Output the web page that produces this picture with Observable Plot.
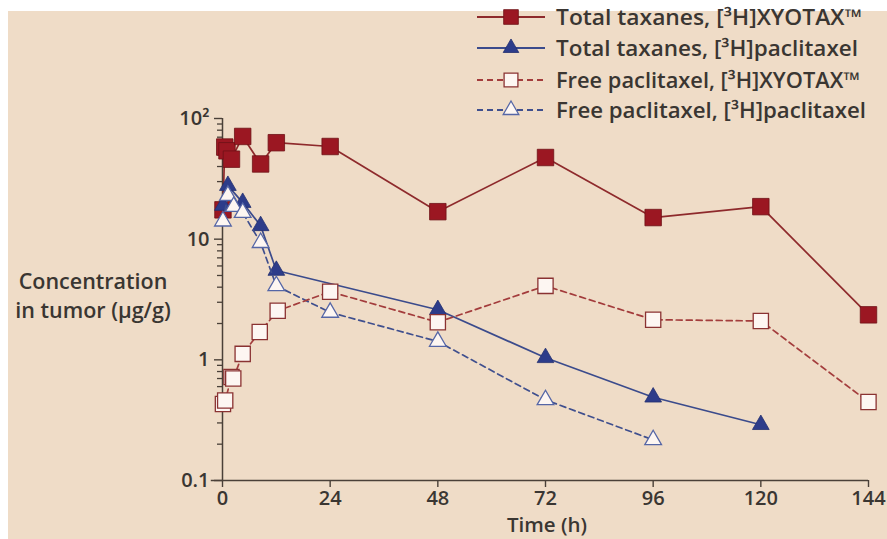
<!DOCTYPE html>
<html><head><meta charset="utf-8">
<script src="https://cdn.jsdelivr.net/npm/d3@7"></script>
<script src="https://cdn.jsdelivr.net/npm/@observablehq/plot@0.6"></script>
<style>
html,body{margin:0;padding:0;background:#fff;width:887px;height:539px;overflow:hidden;}
#bg{position:absolute;left:8px;top:11px;width:879px;height:528px;background:#efdcc7;}
#chart{position:absolute;left:0;top:0;}
#legend{position:absolute;left:0;top:0;}
.lab{position:absolute;font-family:"Open Sans",sans-serif;font-weight:600;font-size:21.5px;color:#3a3632;line-height:29px;white-space:nowrap;}
#ylab{left:3px;top:266px;width:180px;text-align:center;}
#xlab{left:437px;top:512px;width:220px;text-align:center;font-size:20.5px;line-height:24px;}
</style></head>
<body>
<div id="bg"></div>
<div id="chart"></div>
<svg id="legend" width="887" height="130"></svg>
<div id="ylab" class="lab">Concentration<br>in tumor (µg/g)</div>
<div id="xlab" class="lab">Time (h)</div>
<script>
// ---- data ----
const seriesNames = [
  "Total taxanes, [³H]XYOTAX™",
  "Total taxanes, [³H]paclitaxel",
  "Free paclitaxel, [³H]XYOTAX™",
  "Free paclitaxel, [³H]paclitaxel"
];
// Total taxanes, XYOTAX (filled squares)
const tTotalX = [0.1, 0.5, 1, 2, 4.5, 8.5, 12, 24, 48, 72, 96, 120, 144];
const vTotalX = [17.5, 58, 54, 46, 71, 42, 63, 58.6, 16.9, 47.5, 15.1, 18.6, 2.36];
// Total taxanes, paclitaxel (filled triangles)
const tTotalP = [0.1, 1.2, 4.5, 8.5, 12, 48, 72, 96, 120];
const vTotalP = [19, 27.8, 20.1, 12.9, 5.5, 2.6, 1.04, 0.49, 0.29];
// Free paclitaxel, XYOTAX (open squares)
const tFreeX = [0.1, 0.6, 2, 2.4, 4.5, 8.3, 12.3, 24, 48, 72, 96, 120, 144];
const vFreeX = [0.43, 0.46, 0.72, 0.70, 1.12, 1.7, 2.55, 3.67, 2.05, 4.1, 2.15, 2.1, 0.448];
// Free paclitaxel, paclitaxel (open triangles)
const tFreeP = [0.1, 1.2, 2.5, 4.5, 8.5, 12, 24, 48, 72, 96];
const vFreeP = [14.1, 23, 18.6, 16.6, 9.35, 4.1, 2.47, 1.42, 0.466, 0.217];

const xTicks = [0, 24, 48, 72, 96, 120, 144];
const yMajor = [0.1, 1, 10, 100];
const yMajorLabels = ["0.1", "1", "10", "10²"];
const yMinor = [0.2,0.3,0.4,0.5,0.6,0.7,0.8,0.9,2,3,4,5,6,7,8,9,20,30,40,50,60,70,80,90];

const mk = (ts, vs) => ts.map((t, i) => ({t, v: vs[i]}));
const A = mk(tTotalX, vTotalX), B = mk(tTotalP, vTotalP), C = mk(tFreeX, vFreeX), D = mk(tFreeP, vFreeP);

const redLine = "#8e2a2c", redFill = "#9b1722", redEdge = "#6e1216";
const redDash = "#a33c3c", openRedEdge = "#8a3232";
const blueLine = "#3b4b8c", blueFill = "#2d3c8a", blueDash = "#3f4f8e", openBlueEdge = "#5566a6";
const openFill = "#fdf6f2";
const axisCol = "#4a4038";

const rSq = 9.3, rOpenSq = 8.6, rTri = 6.2;

const chart = Plot.plot({
  width: 887, height: 539,
  marginLeft: 222, marginRight: 19, marginTop: 118, marginBottom: 59,
  style: {background: "transparent", overflow: "visible", fontFamily: "'Open Sans', sans-serif", fontSize: "20px", fontWeight: 600, color: "#3a3632"},
  x: {domain: [0, 144], axis: null},
  y: {type: "log", domain: [0.1, 100], axis: null},
  marks: [
    Plot.axisY({ticks: yMinor, tickSize: 5, tickFormat: () => "", stroke: axisCol, strokeWidth: 1.3, label: null}),
    Plot.axisY({ticks: yMajor, tickSize: 8, tickPadding: 5, tickFormat: d => yMajorLabels[yMajor.indexOf(d)], stroke: axisCol, strokeWidth: 1.4, label: null}),
    Plot.axisX({ticks: xTicks, tickSize: 7, tickPadding: 3, tickFormat: d => String(d), stroke: axisCol, strokeWidth: 1.4, label: null}),
    Plot.ruleX([0], {y1: 0.1, y2: 100, stroke: axisCol, strokeWidth: 1.5}),
    Plot.ruleY([0.1], {x1: -2.5, x2: 144, stroke: axisCol, strokeWidth: 1.5}),

    Plot.line(A, {x: "t", y: "v", stroke: redLine, strokeWidth: 1.7}),
    Plot.dot(A, {x: "t", y: "v", symbol: "square", r: rSq, fill: redFill, stroke: redEdge, strokeWidth: 0.8}),

    Plot.line(B, {x: "t", y: "v", stroke: blueLine, strokeWidth: 1.7}),
    Plot.dot(B, {x: "t", y: "v", symbol: "triangle", r: rTri, fill: blueFill, stroke: "#233070", strokeWidth: 0.8}),

    Plot.line(D, {x: "t", y: "v", stroke: blueDash, strokeWidth: 1.7, strokeDasharray: "6,4"}),
    Plot.dot(D, {x: "t", y: "v", symbol: "triangle", r: rTri, fill: openFill, stroke: openBlueEdge, strokeWidth: 1.3}),

    Plot.line(C, {x: "t", y: "v", stroke: redDash, strokeWidth: 1.7, strokeDasharray: "6,4"}),
    Plot.dot(C, {x: "t", y: "v", symbol: "square", r: rOpenSq, fill: openFill, stroke: openRedEdge, strokeWidth: 1.3})
  ]
});
document.getElementById("chart").appendChild(chart);

// ---- legend ----
const leg = d3.select("#legend");
const rowsY = [17, 48, 80, 110];
const rowWidths = [306, 302, 304, 310];
const styles = [
  {line: redLine, dash: null, sym: d3.symbolSquare, r: 8.3, fill: redFill, edge: redEdge, sw: 0.8},
  {line: blueLine, dash: null, sym: d3.symbolTriangle, r: 5.8, fill: blueFill, edge: "#233070", sw: 0.8},
  {line: redDash, dash: "6,4", sym: d3.symbolSquare, r: 7.8, fill: openFill, edge: openRedEdge, sw: 1.3},
  {line: blueDash, dash: "6,4", sym: d3.symbolTriangle, r: 5.8, fill: openFill, edge: openBlueEdge, sw: 1.3}
];
seriesNames.forEach((name, i) => {
  const s = styles[i], y = rowsY[i];
  const g = leg.append("g");
  g.append("line").attr("x1", 477).attr("x2", 545).attr("y1", y).attr("y2", y)
    .attr("stroke", s.line).attr("stroke-width", 1.8).attr("stroke-dasharray", s.dash);
  g.append("path").attr("d", d3.symbol(s.sym, Math.PI * s.r * s.r)())
    .attr("transform", `translate(511,${y})`).attr("fill", s.fill).attr("stroke", s.edge).attr("stroke-width", s.sw);
  g.append("text").attr("x", 556).attr("y", y).attr("dy", "0.36em")
    .attr("font-family", "'Open Sans', sans-serif").attr("font-weight", 600).attr("font-size", 21.5)
    .attr("textLength", rowWidths[i]).attr("lengthAdjust", "spacingAndGlyphs")
    .attr("fill", "#3a3632").text(name);
});
</script>
</body></html>
